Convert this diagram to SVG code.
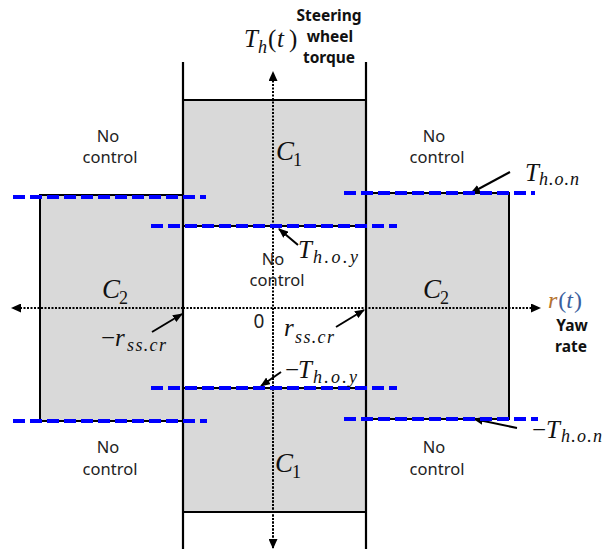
<svg xmlns="http://www.w3.org/2000/svg" width="605" height="549" viewBox="0 0 605 549">
<style>
.reg{fill:#d9d9d9;stroke:#000;stroke-width:2}
.hole{fill:#fff;stroke:#000;stroke-width:2}
.vl{stroke:#000;stroke-width:2.2;fill:none}
.blue{stroke:#0000ff;stroke-width:4;stroke-dasharray:12 5;fill:none}
.axis{stroke:#000;stroke-width:2;stroke-dasharray:2 1.5;fill:none}
.ann{stroke:#000;stroke-width:2;fill:none;marker-end:url(#ah)}
.nc{font-family:"Noto Sans","Open Sans",sans-serif;font-size:16.5px;fill:#222;text-anchor:middle}
.bold{font-family:"Noto Sans","Open Sans",sans-serif;font-size:15.5px;font-weight:bold;fill:#111;text-anchor:middle}
.m{font-family:"Liberation Serif","DejaVu Serif",serif;font-style:italic;font-size:25px;fill:#111}
.s{font-family:"Liberation Serif","DejaVu Serif",serif;font-style:italic;font-size:18px;fill:#111}
.u{font-family:"Liberation Serif","DejaVu Serif",serif;font-size:25px;fill:#111}
.us{font-family:"Liberation Serif","DejaVu Serif",serif;font-size:18px;fill:#111}
.c{font-size:27px}
</style>
<defs>
<marker id="ah" markerUnits="userSpaceOnUse" markerWidth="10" markerHeight="8" refX="9" refY="4" orient="auto">
<path d="M0,0 L10,4 L0,8 z" fill="#000"/>
</marker>
<marker id="ax" markerUnits="userSpaceOnUse" markerWidth="10" markerHeight="9" refX="9" refY="4.5" orient="auto">
<path d="M0,0 L10,4.5 L0,9 z" fill="#000"/>
</marker>
</defs>

<g id="region-left-C2"><rect class="reg" x="40" y="195" width="143" height="226"/></g>
<g id="region-right-C2"><rect class="reg" x="366" y="193" width="143" height="226"/></g>
<g id="region-center-C1"><rect class="reg" x="183" y="100" width="183" height="412"/></g>
<g id="region-center-nocontrol"><rect class="hole" x="183" y="226" width="183" height="162"/></g>

<g id="bounds">
<line class="vl" x1="183" y1="62" x2="183" y2="549"/>
<line class="vl" x1="366" y1="62" x2="366" y2="549"/>
</g>

<g id="connectors">
<line class="axis" x1="273" y1="548" x2="273" y2="72" marker-end="url(#ax)"/>
<line class="axis" x1="273" y1="308" x2="273" y2="548" marker-end="url(#ax)"/>
<line class="axis" x1="183" y1="308" x2="12" y2="308" marker-end="url(#ax)"/>
<line class="axis" x1="183" y1="308" x2="540" y2="308" marker-end="url(#ax)"/>
<line class="ann" x1="152" y1="332" x2="182" y2="314"/>
<line class="ann" x1="336" y1="327" x2="364" y2="310"/>
<line class="ann" x1="298" y1="245" x2="279" y2="229"/>
<line class="ann" x1="281" y1="372" x2="261" y2="386"/>
<line class="ann" x1="510" y1="172" x2="471" y2="193"/>
<line class="ann" x1="517" y1="428" x2="474" y2="419"/>
</g>

<g id="thresholds">
<line class="blue" x1="13" y1="197" x2="206" y2="197"/>
<line class="blue" x1="151" y1="226" x2="397" y2="226"/>
<line class="blue" x1="344" y1="193" x2="535" y2="193"/>
<line class="blue" x1="151" y1="388" x2="397" y2="388"/>
<line class="blue" x1="13" y1="421" x2="207" y2="421"/>
<line class="blue" x1="344" y1="419" x2="538" y2="419"/>
</g>

<g id="label-steering">
<text class="bold" x="329" y="21">Steering</text>
<text class="bold" x="330" y="42">wheel</text>
<text class="bold" x="329" y="63">torque</text>
</g>
<g id="label-Th">
<text class="m" x="244" y="47">T</text>
<text class="s" x="258" y="53">h</text>
<text class="u" x="268" y="47">(</text>
<text class="m" x="277" y="47">t</text>
<text class="u" x="289" y="47">)</text>
</g>
<g id="label-yaw">
<text x="548" y="308" style="font-family:'Liberation Serif',serif;font-size:24px"><tspan font-style="italic" fill="#b5732e">r</tspan><tspan fill="#3c5f9e" dx="1">(</tspan><tspan font-style="italic" fill="#3c5f9e">t</tspan><tspan fill="#3c5f9e" dx="1">)</tspan></text>
<text class="bold" x="572" y="331">Yaw</text>
<text class="bold" x="571" y="352">rate</text>
</g>

<g id="nocontrol-tl"><text class="nc" x="108" y="142">No</text><text class="nc" x="110" y="163">control</text></g>
<g id="nocontrol-tr"><text class="nc" x="434" y="142">No</text><text class="nc" x="437" y="163">control</text></g>
<g id="nocontrol-c"><text class="nc" x="273" y="265">No</text><text class="nc" x="277" y="286">control</text></g>
<g id="nocontrol-bl"><text class="nc" x="108" y="453">No</text><text class="nc" x="110" y="475">control</text></g>
<g id="nocontrol-br"><text class="nc" x="434" y="453">No</text><text class="nc" x="437" y="475">control</text></g>

<g id="label-C1-top"><text class="m c" x="276" y="160">C</text><text class="us" x="293" y="166">1</text></g>
<g id="label-C1-bottom"><text class="m c" x="275" y="472">C</text><text class="us" x="292" y="478">1</text></g>
<g id="label-C2-left"><text class="m c" x="102" y="298">C</text><text class="us" x="119" y="304">2</text></g>
<g id="label-C2-right"><text class="m c" x="423" y="298">C</text><text class="us" x="440" y="304">2</text></g>

<g id="label-zero"><text class="nc" x="259" y="328" style="font-size:19px">0</text></g>

<g id="label-Thon"><text class="m" x="525" y="181">T</text><text class="s" x="539" y="185" textLength="40" lengthAdjust="spacing">h.o.n</text></g>
<g id="label-mThon"><text class="u" x="532" y="438">−</text><text class="m" x="546" y="438">T</text><text class="s" x="561" y="442" textLength="41" lengthAdjust="spacing">h.o.n</text></g>
<g id="label-Thoy"><text class="m" x="298" y="258">T</text><text class="s" x="313" y="263" textLength="45" lengthAdjust="spacing">h.o.y</text></g>
<g id="label-mThoy"><text class="u" x="285" y="378">−</text><text class="m" x="298" y="378">T</text><text class="s" x="313" y="383" textLength="44" lengthAdjust="spacing">h.o.y</text></g>
<g id="label-mrss"><text class="u" x="101" y="346">−</text><text class="m" x="115" y="346">r</text><text class="s" x="127" y="351" textLength="39" lengthAdjust="spacing">ss.cr</text></g>
<g id="label-rss"><text class="m" x="284" y="336">r</text><text class="s" x="295" y="343" textLength="39" lengthAdjust="spacing">ss.cr</text></g>
</svg>
